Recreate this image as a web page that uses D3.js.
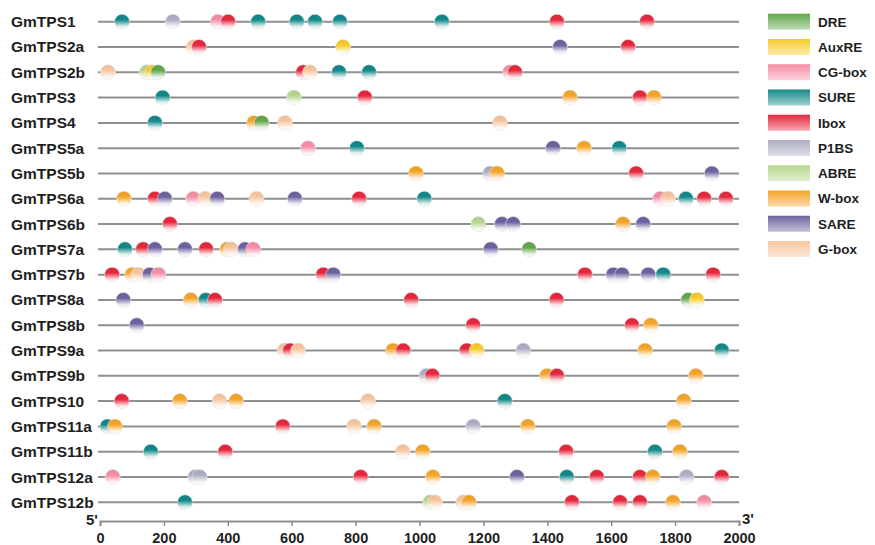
<!DOCTYPE html>
<html>
<head>
<meta charset="utf-8">
<script src="https://cdn.jsdelivr.net/npm/d3@7"></script>
<style>
  body { margin: 0; background: #fff; }
  text { font-family: Arial, "Liberation Sans", sans-serif; }
</style>
</head>
<body>
<div id="chart"></div>
<script>
let width = 875
let height = 545

let genes = ["GmTPS1", "GmTPS2a", "GmTPS2b", "GmTPS3", "GmTPS4", "GmTPS5a", "GmTPS5b",
             "GmTPS6a", "GmTPS6b", "GmTPS7a", "GmTPS7b", "GmTPS8a", "GmTPS8b", "GmTPS9a",
             "GmTPS9b", "GmTPS10", "GmTPS11a", "GmTPS11b", "GmTPS12a", "GmTPS12b"]

let elementTypes = ["DRE", "AuxRE", "CG-box", "SURE", "Ibox", "P1BS", "ABRE", "W-box", "SARE", "G-box"]
let elementColors = ["#62a84a", "#f7cc2a", "#f58ea6", "#12898a", "#e6283e", "#aeaec6", "#b6d68e", "#f5a52a", "#6f62a0", "#f7c6a0"]

let tickValues = [0, 200, 400, 600, 800, 1000, 1200, 1400, 1600, 1800, 2000]

// [gene, element, position (bp)]
let sites = [
  ["GmTPS1", "SURE", 69], ["GmTPS1", "P1BS", 228], ["GmTPS1", "CG-box", 369], ["GmTPS1", "Ibox", 401],
  ["GmTPS1", "SURE", 495], ["GmTPS1", "SURE", 616], ["GmTPS1", "SURE", 673], ["GmTPS1", "SURE", 751],
  ["GmTPS1", "SURE", 1070], ["GmTPS1", "Ibox", 1430], ["GmTPS1", "Ibox", 1712],

  ["GmTPS2a", "G-box", 293], ["GmTPS2a", "Ibox", 310], ["GmTPS2a", "AuxRE", 761],
  ["GmTPS2a", "SARE", 1440], ["GmTPS2a", "Ibox", 1653],

  ["GmTPS2b", "G-box", 25], ["GmTPS2b", "ABRE", 146], ["GmTPS2b", "AuxRE", 164], ["GmTPS2b", "DRE", 182],
  ["GmTPS2b", "Ibox", 636], ["GmTPS2b", "G-box", 657], ["GmTPS2b", "SURE", 748], ["GmTPS2b", "SURE", 842],
  ["GmTPS2b", "CG-box", 1283], ["GmTPS2b", "Ibox", 1299],

  ["GmTPS3", "SURE", 196], ["GmTPS3", "ABRE", 607], ["GmTPS3", "Ibox", 829], ["GmTPS3", "W-box", 1471],
  ["GmTPS3", "Ibox", 1690], ["GmTPS3", "W-box", 1734],

  ["GmTPS4", "SURE", 172], ["GmTPS4", "W-box", 482], ["GmTPS4", "DRE", 506], ["GmTPS4", "G-box", 579],
  ["GmTPS4", "G-box", 1252],

  ["GmTPS5a", "CG-box", 651], ["GmTPS5a", "SURE", 804], ["GmTPS5a", "SARE", 1418], ["GmTPS5a", "W-box", 1515],
  ["GmTPS5a", "SURE", 1625],

  ["GmTPS5b", "W-box", 989], ["GmTPS5b", "P1BS", 1221], ["GmTPS5b", "W-box", 1243], ["GmTPS5b", "Ibox", 1678],
  ["GmTPS5b", "SARE", 1915],

  ["GmTPS6a", "W-box", 75], ["GmTPS6a", "Ibox", 172], ["GmTPS6a", "SARE", 203], ["GmTPS6a", "CG-box", 292],
  ["GmTPS6a", "G-box", 329], ["GmTPS6a", "SARE", 367], ["GmTPS6a", "G-box", 490], ["GmTPS6a", "SARE", 610],
  ["GmTPS6a", "Ibox", 811], ["GmTPS6a", "SURE", 1015], ["GmTPS6a", "CG-box", 1753], ["GmTPS6a", "G-box", 1778],
  ["GmTPS6a", "SURE", 1834], ["GmTPS6a", "Ibox", 1891], ["GmTPS6a", "Ibox", 1959],

  ["GmTPS6b", "Ibox", 219], ["GmTPS6b", "ABRE", 1184], ["GmTPS6b", "SARE", 1258], ["GmTPS6b", "SARE", 1293],
  ["GmTPS6b", "W-box", 1637], ["GmTPS6b", "SARE", 1700],

  ["GmTPS7a", "SURE", 78], ["GmTPS7a", "Ibox", 135], ["GmTPS7a", "SARE", 172], ["GmTPS7a", "SARE", 266],
  ["GmTPS7a", "Ibox", 332], ["GmTPS7a", "W-box", 398], ["GmTPS7a", "G-box", 410], ["GmTPS7a", "SARE", 454],
  ["GmTPS7a", "CG-box", 480], ["GmTPS7a", "SARE", 1223], ["GmTPS7a", "DRE", 1343],

  ["GmTPS7b", "Ibox", 38], ["GmTPS7b", "W-box", 101], ["GmTPS7b", "G-box", 120], ["GmTPS7b", "SARE", 156],
  ["GmTPS7b", "CG-box", 183], ["GmTPS7b", "Ibox", 699], ["GmTPS7b", "SARE", 730], ["GmTPS7b", "Ibox", 1518],
  ["GmTPS7b", "SARE", 1607], ["GmTPS7b", "SARE", 1634], ["GmTPS7b", "SARE", 1716], ["GmTPS7b", "SURE", 1763],
  ["GmTPS7b", "Ibox", 1919],

  ["GmTPS8a", "SARE", 73], ["GmTPS8a", "W-box", 284], ["GmTPS8a", "SURE", 331], ["GmTPS8a", "Ibox", 360],
  ["GmTPS8a", "Ibox", 974], ["GmTPS8a", "Ibox", 1429], ["GmTPS8a", "DRE", 1841], ["GmTPS8a", "AuxRE", 1868],

  ["GmTPS8b", "SARE", 115], ["GmTPS8b", "Ibox", 1168], ["GmTPS8b", "Ibox", 1665], ["GmTPS8b", "W-box", 1724],

  ["GmTPS9a", "G-box", 578], ["GmTPS9a", "Ibox", 595], ["GmTPS9a", "G-box", 620], ["GmTPS9a", "W-box", 917],
  ["GmTPS9a", "Ibox", 949], ["GmTPS9a", "Ibox", 1148], ["GmTPS9a", "AuxRE", 1179], ["GmTPS9a", "P1BS", 1325],
  ["GmTPS9a", "W-box", 1706], ["GmTPS9a", "SURE", 1946],

  ["GmTPS9b", "P1BS", 1022], ["GmTPS9b", "Ibox", 1040], ["GmTPS9b", "W-box", 1399], ["GmTPS9b", "Ibox", 1430],
  ["GmTPS9b", "W-box", 1865],

  ["GmTPS10", "Ibox", 68], ["GmTPS10", "W-box", 250], ["GmTPS10", "G-box", 374], ["GmTPS10", "W-box", 426],
  ["GmTPS10", "G-box", 839], ["GmTPS10", "SURE", 1267], ["GmTPS10", "W-box", 1827],

  ["GmTPS11a", "SURE", 23], ["GmTPS11a", "W-box", 47], ["GmTPS11a", "Ibox", 572], ["GmTPS11a", "G-box", 795],
  ["GmTPS11a", "W-box", 858], ["GmTPS11a", "P1BS", 1168], ["GmTPS11a", "W-box", 1339], ["GmTPS11a", "W-box", 1797],

  ["GmTPS11b", "SURE", 159], ["GmTPS11b", "Ibox", 392], ["GmTPS11b", "G-box", 948], ["GmTPS11b", "W-box", 1010],
  ["GmTPS11b", "Ibox", 1459], ["GmTPS11b", "SURE", 1737], ["GmTPS11b", "W-box", 1815],

  ["GmTPS12a", "CG-box", 40], ["GmTPS12a", "P1BS", 298], ["GmTPS12a", "P1BS", 312], ["GmTPS12a", "Ibox", 816],
  ["GmTPS12a", "W-box", 1042], ["GmTPS12a", "SARE", 1305], ["GmTPS12a", "SURE", 1461], ["GmTPS12a", "Ibox", 1555],
  ["GmTPS12a", "Ibox", 1690], ["GmTPS12a", "W-box", 1730], ["GmTPS12a", "P1BS", 1836], ["GmTPS12a", "Ibox", 1946],

  ["GmTPS12b", "SURE", 266], ["GmTPS12b", "ABRE", 1033], ["GmTPS12b", "G-box", 1048], ["GmTPS12b", "G-box", 1137],
  ["GmTPS12b", "W-box", 1155], ["GmTPS12b", "Ibox", 1477], ["GmTPS12b", "Ibox", 1628], ["GmTPS12b", "Ibox", 1690],
  ["GmTPS12b", "W-box", 1793], ["GmTPS12b", "CG-box", 1891]
]

let svg = d3.select("#chart")
            .append("svg")
            .attr("width", width)
            .attr("height", height)

let xScale = d3.scaleLinear().domain([0, 2000]).range([100, 739])
let yScale = d3.scalePoint().domain(genes).range([21.7, 502.3])
let color = d3.scaleOrdinal().domain(elementTypes).range(elementColors)

// gradients: solid on top, fading to white below
let defs = svg.append("defs")
elementTypes.forEach(function(t, i) {
    let g = defs.append("linearGradient")
        .attr("id", "grad" + i)
        .attr("x1", 0).attr("y1", 0).attr("x2", 0).attr("y2", 1)
    g.append("stop").attr("offset", "0%").attr("stop-color", d3.color(color(t)).darker(0.15))
    g.append("stop").attr("offset", "38%").attr("stop-color", color(t))
    g.append("stop").attr("offset", "80%").attr("stop-color", d3.interpolateRgb(color(t), "#fff")(0.85))
    g.append("stop").attr("offset", "100%").attr("stop-color", "#fff")
})
function fillOf(t) { return "url(#grad" + elementTypes.indexOf(t) + ")" }

// gene lines
svg.selectAll("line.gene")
    .data(genes)
    .enter()
    .append("line")
    .attr("class", "gene")
    .attr("x1", xScale(0) - 2)
    .attr("x2", xScale(2000))
    .attr("y1", function(d) { return yScale(d) })
    .attr("y2", function(d) { return yScale(d) })
    .attr("stroke", "#8f8f8f")
    .attr("stroke-width", 2)

svg.selectAll("text.gene")
    .data(genes)
    .enter()
    .append("text")
    .attr("class", "gene")
    .attr("x", 11)
    .attr("y", function(d) { return yScale(d) + 5.5 })
    .attr("font-size", 15.5)
    .attr("font-weight", "bold")
    .attr("fill", "#1e1e1e")
    .text(function(d) { return d })

// element circles
let sorted = sites.slice().sort(function(a, b) { return a[2] - b[2] })
svg.selectAll("circle.site")
    .data(sorted)
    .enter()
    .append("circle")
    .attr("class", "site")
    .attr("cx", function(d) { return xScale(d[2]) })
    .attr("cy", function(d) { return yScale(d[0]) })
    .attr("r", 7.5)
    .attr("fill", function(d) { return fillOf(d[1]) })
    .attr("stroke", "#e4e4e4")
    .attr("stroke-width", 0.6)

// axis
let xAxis = d3.axisBottom()
    .scale(xScale)
    .tickValues(tickValues)
    .tickSize(5)
    .tickFormat(d3.format("d"))

let axisG = svg.append("g")
    .attr("class", "axis")
    .attr("transform", "translate(0,521)")
    .call(xAxis)
axisG.select(".domain").attr("stroke", "#8f8f8f").attr("stroke-width", 2)
axisG.selectAll(".tick line").attr("stroke", "#8f8f8f").attr("stroke-width", 1.5)
axisG.selectAll(".tick text")
    .attr("font-size", 14.5)
    .attr("font-weight", "bold")
    .attr("fill", "#1e1e1e")
    .attr("font-family", "Arial, 'Liberation Sans', sans-serif")
    .attr("y", 22)
    .attr("dy", 0)

svg.append("text").attr("x", 86).attr("y", 525).attr("font-size", 15).attr("font-weight", "bold")
    .attr("fill", "#1e1e1e").text("5'")
svg.append("text").attr("x", 742).attr("y", 524).attr("font-size", 15).attr("font-weight", "bold")
    .attr("fill", "#1e1e1e").text("3'")

// legend
let legendY = d3.scalePoint().domain(elementTypes).range([21.7, 249])
let lgDefs = elementTypes.map(function(t, i) {
    let g = defs.append("linearGradient")
        .attr("id", "lgrad" + i)
        .attr("x1", 0).attr("y1", 0).attr("x2", 0).attr("y2", 1)
    g.append("stop").attr("offset", "0%").attr("stop-color", color(t))
    g.append("stop").attr("offset", "100%").attr("stop-color", d3.interpolateRgb(color(t), "#fff")(0.6))
    return "url(#lgrad" + i + ")"
})

let legend = svg.selectAll("g.legend")
    .data(elementTypes)
    .enter()
    .append("g")
    .attr("class", "legend")
    .attr("transform", function(d) { return "translate(768," + legendY(d) + ")" })

legend.append("rect")
    .attr("x", 0)
    .attr("y", -8)
    .attr("width", 42)
    .attr("height", 16)
    .attr("fill", function(d, i) { return lgDefs[i] })

legend.append("text")
    .attr("x", 50)
    .attr("y", 5)
    .attr("font-size", 13.5)
    .attr("font-weight", "bold")
    .attr("fill", "#1e1e1e")
    .text(function(d) { return d })
</script>
</body>
</html>
